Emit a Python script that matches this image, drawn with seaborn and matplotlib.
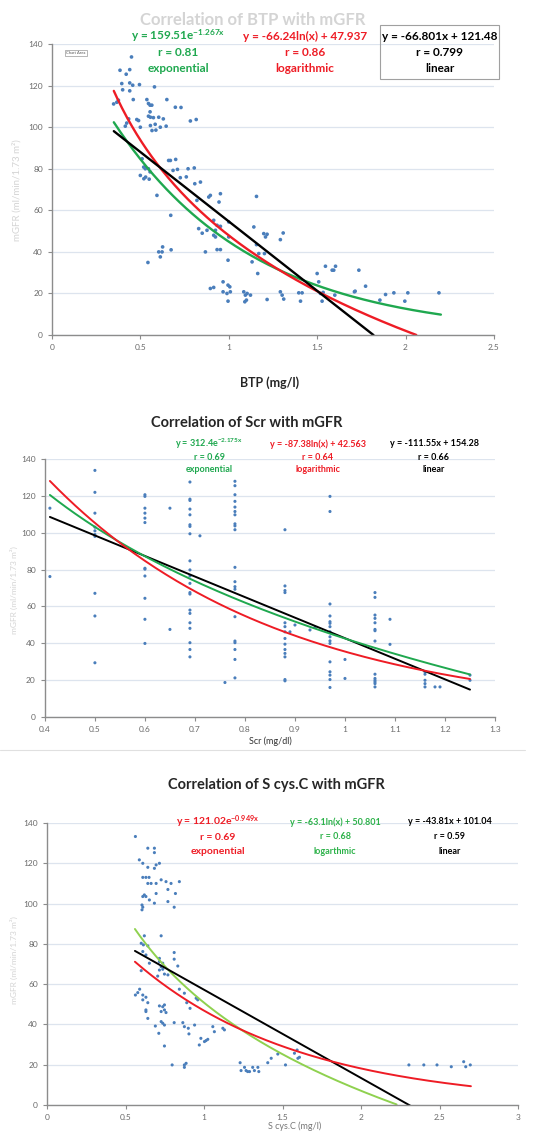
import numpy as np
import pandas as pd
import matplotlib
matplotlib.use("Agg")
import matplotlib.pyplot as plt
import seaborn as sns

# --- data ---

# BTP panel
btp_x = [0.45, 0.385, 0.44, 0.42, 0.395, 0.44, 0.457, 0.495, 0.40, 0.44, 0.58, 0.367, 0.376,
         0.46, 0.537, 0.546, 0.555, 0.565, 0.65, 0.73, 0.555, 0.546, 0.574, 0.48, 0.423, 0.415,
         0.584, 0.63, 0.646, 0.588, 0.816, 0.70, 0.71, 0.805, 0.76, 0.84, 0.546, 0.555, 0.53, 0.55,
         0.349, 0.434, 0.49, 0.50, 0.557, 0.557, 0.566, 0.613, 0.604, 0.698, 0.783,
         0.51, 0.519, 0.528, 0.50, 0.52, 0.66, 0.67, 0.685, 0.726, 0.77, 0.808, 0.594, 0.672,
         0.543, 0.604, 0.626, 0.623, 0.613, 0.674, 0.82, 0.83, 0.85, 0.877, 0.868, 0.887, 0.896,
         0.953, 0.945, 0.915, 0.925, 0.934, 0.925, 0.915, 0.953, 0.934, 0.953, 1.0, 1.0, 0.996,
         0.896, 0.915, 0.968, 0.968, 0.99, 0.996, 1.006, 1.009, 0.996, 1.085, 1.104, 1.094, 1.123,
         1.091, 1.10, 1.132, 1.142, 1.157, 1.157, 1.17, 1.164, 1.202, 1.198, 1.208, 1.217, 1.217,
         1.292, 1.308, 1.292, 1.302, 1.311, 1.396, 1.415, 1.406, 1.50, 1.509, 1.519, 1.534, 1.528,
         1.547, 1.585, 1.594, 1.604, 1.60, 1.711, 1.715, 1.736, 1.774, 1.855, 1.887, 1.934, 1.996,
         2.013, 2.189]
btp_y = [133.8, 127.4, 127.7, 125.5, 121, 121.3, 120.2, 120.5, 118, 117.5, 119.4, 112, 113,
         113.3, 113.3, 111.4, 110.6, 110.6, 113.3, 109.5, 107.4, 105.3, 104.6, 103.7, 102, 100.5,
         101.4, 104, 100.5, 98.6, 103.7, 84.5, 79.7, 80.4, 76.1, 73.6, 80, 78.5, 76, 75,
         111.2, 104, 103.2, 100, 104.8, 100.8, 98.4, 100, 104.8, 109.6, 103,
         84.8, 80.8, 80, 76.8, 75.2, 84, 84, 79.2, 75.7, 80, 72.8, 67.2, 57.6,
         34.9, 40, 42.4, 40, 37.6, 41, 64.8, 51.2, 49, 50.4, 40, 66.4, 67.2,
         68, 64, 55.2, 50.4, 52.8, 47.2, 48, 52.3, 41.1, 41.1, 54.4, 47.2, 36,
         22.4, 22.9, 25.6, 20.8, 20, 24, 23.2, 20.8, 16.3, 20.8, 20, 19.2, 19.2,
         16, 16.8, 35.2, 52, 66.7, 43.5, 39.2, 29.6, 39.2, 48.8, 47.2, 48.5, 17.1,
         45.9, 49.1, 20.8, 19.2, 17.3, 20.3, 20.3, 16.3, 29.6, 25.6, 20, 20.5, 16.3,
         33.1, 31.2, 31.2, 33.1, 19.2, 20.8, 21.1, 31.2, 23.5, 16.8, 19.5, 20.3, 16.3,
         20.3, 20.3]

# Scr panel (x values repeat because Scr is recorded in coarse steps)
scr_x = ([0.41] * 2 + [0.5] * 10 + [0.6] * 12 + [0.65] * 2 + [0.69] * 21 + [0.71, 0.76]
         + [0.78] * 20 + [0.88] * 14 + [0.9, 0.89, 0.93, 0.94] + [0.97] * 16 + [1.0] * 2
         + [1.06] * 14 + [1.09] * 2 + [1.16] * 5 + [1.18, 1.19] + [1.25] * 2)
scr_y = ([113.3, 76.2]
         + [133.8, 121.9, 110.6, 103, 101, 99, 98, 67.1, 54.8, 29.4]
         + [120.6, 119.7, 113.3, 110.6, 107.9, 105.5, 80.7, 80.2, 76.5, 64.4, 53, 39.9]
         + [113.3, 47.5]
         + [127.5, 118.2, 117.5, 112.8, 109.7, 104.3, 103.4, 99.4, 84.7, 79.8, 76.5, 72.5,
            67.5, 66.7, 58, 56.2, 51.1, 48.1, 40.3, 36.6, 32.6]
         + [98.3, 18.7]
         + [127.9, 125.5, 120.6, 117, 113.9, 111.5, 109.7, 104.8, 103.7, 101.6, 81.2, 73.4,
            70.7, 69.3, 54.4, 41.2, 40.3, 36.6, 31.2, 21.2]
         + [101.6, 71.1, 68.6, 67.5, 51.1, 49, 46.2, 42.6, 39.5, 36.6, 34.5, 32.6, 20.3, 19.6]
         + [49.9, 46.2, 47.2, 48.6]
         + [119.7, 111.5, 61.3, 54.8, 51.7, 50.8, 49, 46.2, 43.5, 41.3, 39.9, 29.9, 24.5,
            22.7, 20.3, 16]
         + [31.2, 20.9]
         + [67.5, 64.9, 55.3, 53.5, 51.1, 47.5, 46.8, 41.2, 23.2, 20.9, 19.9, 19, 18.1, 16.3]
         + [53, 39.4]
         + [24.5, 23.2, 19.9, 18.1, 16.3]
         + [16.3, 16.3]
         + [22.7, 19.9])

# S cys.C panel
cys_x = [0.563, 0.642, 0.684, 0.684, 0.588, 0.61, 0.642, 0.684, 0.695, 0.716, 0.61, 0.63, 0.65,
         0.727, 0.758, 0.642, 0.663, 0.695, 0.79, 0.843, 0.77, 0.818, 0.695, 0.62, 0.61, 0.63,
         0.652, 0.684, 0.77, 0.81, 0.605, 0.61, 0.605, 0.62, 0.727, 0.60, 0.614, 0.642, 0.61,
         0.63, 0.81, 0.81, 0.716, 0.716, 0.737, 0.727, 0.652, 0.833, 0.60, 0.716, 0.737, 0.748,
         0.77, 0.705, 0.843, 0.875, 0.59, 0.578, 0.61, 0.63, 0.563, 0.642, 0.61, 0.716, 0.737,
         0.748, 0.727, 0.758, 0.748, 0.63, 0.63, 0.89, 0.911, 0.95, 0.96, 0.642, 0.69, 0.727,
         0.737, 0.748, 0.81, 0.865, 0.875, 0.90, 0.904, 0.94, 0.98, 1.003, 1.013, 1.024, 0.97,
         1.056, 1.066, 1.12, 1.13, 0.712, 0.748, 0.797, 0.875, 0.886, 0.875, 1.23, 1.258, 1.278,
         1.31, 1.321, 1.343, 1.349, 1.268, 1.29, 1.236, 1.406, 1.428, 1.47, 1.519, 1.576, 1.598,
         1.608, 1.593, 2.305, 2.40, 2.484, 2.575, 2.654, 2.667, 2.696]
cys_y = [133.3, 127.5, 127.5, 125.3, 121.7, 120, 118, 117.5, 119.2, 120, 113, 113, 113,
         111.8, 110.9, 110, 110, 110, 110, 110.9, 107, 105, 105, 104.3, 103.5, 103.5,
         101.8, 100.2, 101, 98.2, 99.3, 98.2, 96.9, 84, 84, 80.3, 79.5, 79, 76.2,
         74.5, 75.7, 72.4, 72.8, 71.2, 70.4, 68.7, 70.4, 69, 66.7, 67, 67.4, 65,
         64.6, 64, 57.5, 55.5, 57.5, 55.8, 54.6, 53.5, 54.6, 50.8, 52.2, 49.2, 48.8,
         47.2, 46.4, 45.9, 49.7, 47.2, 46.4, 50.8, 48, 53, 52.2, 43, 39.2, 41.4,
         40.6, 39.7, 40.9, 40.9, 38.9, 38.1, 35.3, 39.7, 33.1, 31.5, 32, 32.6, 29.8,
         38.9, 36.4, 38.1, 37.3, 35.6, 29.3, 19.9, 19.9, 20.7, 18.7, 21, 18.7, 16.6,
         18.7, 17.1, 18.7, 16.6, 17.1, 16.6, 17.1, 21, 23.2, 25.3, 19.9, 25.7, 23.2,
         23.7, 27.3, 19.9, 19.9, 19.9, 19, 21.5, 19, 19.9]

# trendline coefficients as printed on the chart
btp_exp = (159.51, -1.267)
btp_log = (-66.24, 47.937)
btp_lin = (-66.801, 121.48)
scr_exp = (312.4, -2.175)
scr_log = (-87.38, 42.563)
scr_lin = (-111.55, 154.28)
cys_exp = (121.02, -0.949)
cys_log = (-63.1, 50.801)
cys_lin = (-43.81, 101.04)

sns.set_style("white")
plt.rcParams["font.family"] = ["Lato", "DejaVu Sans"]
plt.rcParams["mathtext.fontset"] = "custom"
plt.rcParams["mathtext.rm"] = "Lato:bold"
plt.rcParams["mathtext.default"] = "rm"

GREEN = "#1fa84f"
LGREEN = "#8fd14f"
RED = "#ee1c25"
DOT = "#4a7ebb"
GRID = "#dde4ee"
FAINT = "#d4d4d4"

fig = plt.figure(figsize=(5.41, 11.33), dpi=100)


def fy(px):
    return 1 - px / 1133


def trend_frame(xmin, xmax, exp_c, log_c, lin_c):
    xs = np.linspace(xmin, xmax, 200)
    return pd.DataFrame({
        "x": xs,
        "exp": exp_c[0] * np.exp(exp_c[1] * xs),
        "log": log_c[0] * np.log(xs) + log_c[1],
        "lin": lin_c[0] * xs + lin_c[1],
    })


def setup_axes(ax, xlim, xticks, xtick_labels):
    ax.set_xlim(*xlim)
    ax.set_ylim(0, 140)
    ax.set_xticks(xticks)
    ax.set_xticklabels(xtick_labels)
    ax.set_yticks(range(0, 141, 20))
    ax.yaxis.grid(True, color=GRID, lw=0.9)
    ax.set_axisbelow(True)
    for s in ["top", "right"]:
        ax.spines[s].set_visible(False)
    for s in ["left", "bottom"]:
        ax.spines[s].set_color("#8c8c8c")
        ax.spines[s].set_linewidth(1.0)
    ax.tick_params(axis="both", labelsize=6, colors="#8c8c8c", labelcolor="#6a6a6a",
                   length=3, width=0.8, direction="out", left=True, bottom=True)
    ax.set_xlabel("")
    ax.set_ylabel("")


def label_block(x, y0, step, lines, color, size):
    for i, txt in enumerate(lines):
        fig.text(x / 541, fy(y0 + step * i), txt, color=color, fontsize=size,
                 fontweight="bold", ha="center", va="center")


# ---------------- BTP ----------------
ax1 = fig.add_axes([0.096, 0.7043, 0.817, 0.2568])
t1 = trend_frame(0.35, 2.2, btp_exp, btp_log, btp_lin)
sns.scatterplot(x=btp_x, y=btp_y, ax=ax1, s=7, color=DOT, edgecolor="none")
sns.lineplot(data=t1, x="x", y="exp", ax=ax1, color=GREEN, lw=1.7)
sns.lineplot(data=t1[t1["log"] >= 0], x="x", y="log", ax=ax1, color=RED, lw=1.7)
sns.lineplot(data=t1[t1["lin"] >= -0.5], x="x", y="lin", ax=ax1, color="black", lw=1.7)
setup_axes(ax1, (0, 2.5), [0, 0.5, 1, 1.5, 2, 2.5], ["0", "0.5", "1", "1.5", "2", "2.5"])

fig.text(253 / 541, fy(20), "Correlation of BTP with mGFR", color=FAINT, fontsize=12,
         fontweight="bold", ha="center", va="center")
label_block(178, 36, 16, [r"y = 159.51e$^{-1.267x}$", "r = 0.81", "exponential"], GREEN, 8.5)
label_block(305, 36, 16, ["y = -66.24ln(x) + 47.937", "r = 0.86", "logarithmic"], RED, 8.5)
label_block(440, 36, 16, ["y = -66.801x + 121.48", "r = 0.799", "linear"], "black", 8.5)
fig.patches.append(plt.Rectangle((380 / 541, fy(79)), 119 / 541, 54 / 1133,
                                 transform=fig.transFigure, fill=False, ec="#a0a0a0", lw=0.8))
fig.text(76 / 541, fy(53), "Chart Area", fontsize=3, color="#555555", ha="center",
         va="center", bbox=dict(boxstyle="square,pad=0.3", fc="white", ec="#999999", lw=0.5))
fig.text(270 / 541, fy(383), "BTP (mg/l)", fontsize=9, fontweight="bold",
         ha="center", va="center")
fig.text(17 / 541, fy(190), "mGFR (ml/min/1.73 m²)", fontsize=7, color=FAINT,
         rotation=90, ha="center", va="center")

# ---------------- Scr ----------------
ax2 = fig.add_axes([0.083, 0.3672, 0.832, 0.2277])
t2 = trend_frame(0.41, 1.25, scr_exp, scr_log, scr_lin)
sns.scatterplot(x=scr_x, y=scr_y, ax=ax2, s=5, color=DOT, edgecolor="none")
sns.lineplot(data=t2, x="x", y="lin", ax=ax2, color="black", lw=1.4)
sns.lineplot(data=t2, x="x", y="log", ax=ax2, color=GREEN, lw=1.4)
sns.lineplot(data=t2, x="x", y="exp", ax=ax2, color=RED, lw=1.4)
ticks2 = [0.4, 0.5, 0.6, 0.7, 0.8, 0.9, 1.0, 1.1, 1.2, 1.3]
setup_axes(ax2, (0.4, 1.3), ticks2, ["0.4", "0.5", "0.6", "0.7", "0.8", "0.9", "1", "1.1",
                                     "1.2", "1.3"])

fig.text(247 / 541, fy(423), "Correlation of Scr with mGFR", fontsize=10.5,
         fontweight="bold", ha="center", va="center")
label_block(209, 444, 13, [r"y = 312.4e$^{-2.175x}$", "r = 0.69", "exponential"], GREEN, 6.5)
label_block(318, 444, 13, ["y = -87.38ln(x) + 42.563", "r = 0.64", "logarithmic"], RED, 6.5)
label_block(434, 444, 13, ["y = -111.55x + 154.28", "r = 0.66", "linear"], "black", 6.5)
fig.text(270 / 541, fy(741), "Scr (mg/dl)", fontsize=6.5, color="#333333",
         ha="center", va="center")
fig.text(14 / 541, fy(590), "mGFR (ml/min/1.73 m²)", fontsize=6, color=FAINT,
         rotation=90, ha="center", va="center")
fig.add_artist(plt.Line2D([0.0, 0.97], [fy(750)] * 2, color="#e0e0e0", lw=0.8))

# ---------------- S cys.C ----------------
ax3 = fig.add_axes([0.0869, 0.0247, 0.8706, 0.2489])
t3 = trend_frame(0.56, 2.7, cys_exp, cys_log, cys_lin)
sns.scatterplot(x=cys_x, y=cys_y, ax=ax3, s=5, color=DOT, edgecolor="none")
sns.lineplot(data=t3[t3["log"] >= 0], x="x", y="log", ax=ax3, color=LGREEN, lw=1.4)
sns.lineplot(data=t3[t3["lin"] >= -0.3], x="x", y="lin", ax=ax3, color="black", lw=1.4)
sns.lineplot(data=t3, x="x", y="exp", ax=ax3, color=RED, lw=1.4)
setup_axes(ax3, (0, 3), [0, 0.5, 1, 1.5, 2, 2.5, 3], ["0", "0.5", "1", "1.5", "2", "2.5", "3"])

fig.text(276 / 541, fy(785), "Correlation of S cys.C with mGFR", fontsize=10.5,
         fontweight="bold", ha="center", va="center")
label_block(218, 822, 15, [r"y = 121.02e$^{-0.949x}$", "r = 0.69", "exponential"], RED, 7.5)
label_block(335, 822, 14.5, ["y = -63.1ln(x) + 50.801", "r = 0.68", "logarthmic"],
            "#2db24a", 6.5)
label_block(450, 822, 14.5, ["y = -43.81x + 101.04", "r = 0.59", "linear"], "black", 6.5)
fig.text(295 / 541, fy(1126), "S cys.C (mg/l)", fontsize=6.5, color="#777777",
         ha="center", va="center")
fig.text(14 / 541, fy(960), "mGFR (ml/min/1.73 m²)", fontsize=6, color=FAINT,
         rotation=90, ha="center", va="center")

fig.savefig("out.png", dpi=100, facecolor="white")
